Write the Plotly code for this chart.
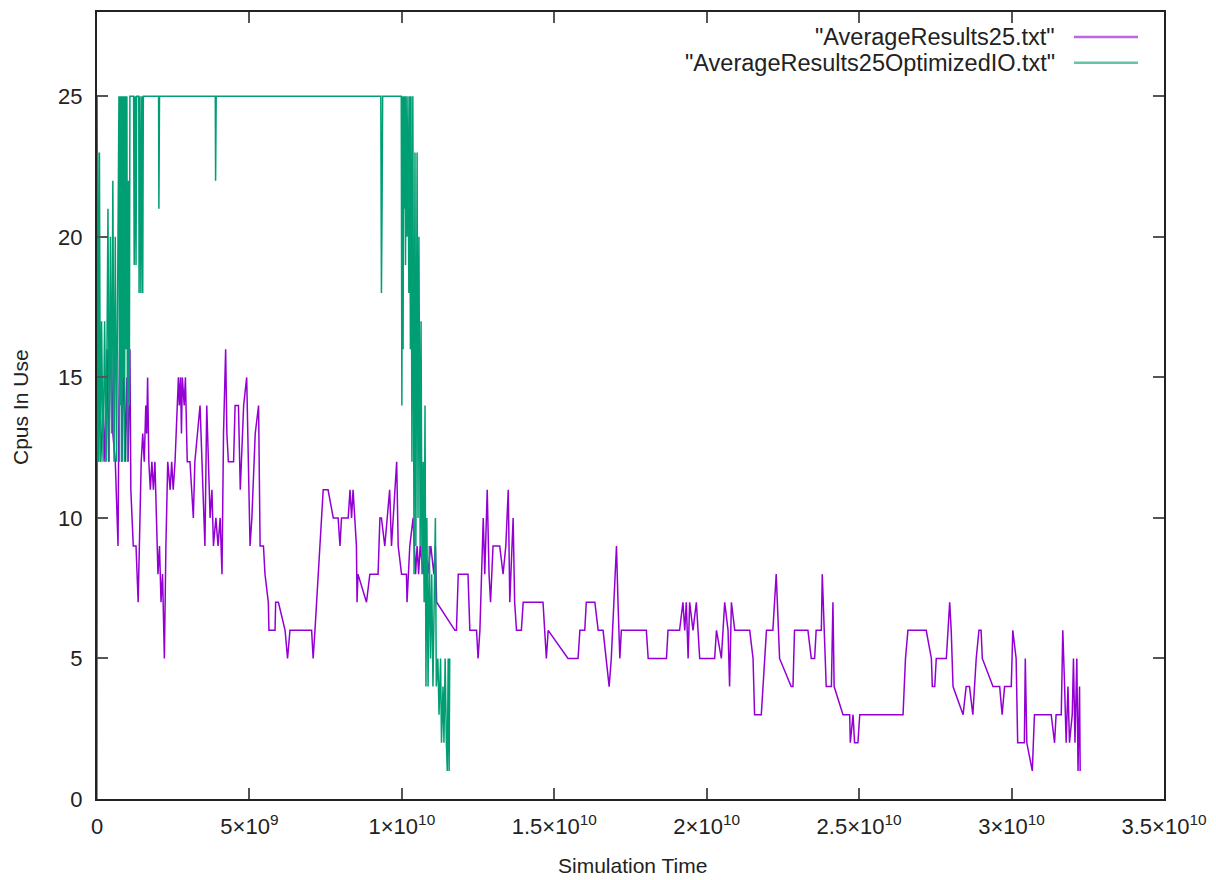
import plotly.graph_objects as go

# ---- data (x in units of 1e9 simulation time, y = CPUs in use) ----
avg25_x = [0, 0.03, 0.08, 0.12, 0.2, 0.26, 0.33, 0.38, 0.46, 0.52, 0.6, 0.69, 0.72, 0.78, 0.82, 0.88, 0.93, 0.98,
           1.02, 1.08, 1.11, 1.14, 1.19, 1.28, 1.35, 1.45, 1.5, 1.55, 1.6, 1.63, 1.66, 1.7, 1.75, 1.8, 1.85, 1.9,
           1.95, 2.0, 2.05, 2.1, 2.15, 2.21, 2.26, 2.32, 2.4, 2.45, 2.5, 2.56, 2.67, 2.7, 2.74, 2.77, 2.8, 2.86,
           2.9, 2.96, 3.05, 3.16, 3.21, 3.38, 3.54, 3.6, 3.71, 3.77, 3.82, 3.9, 3.97, 4.04, 4.1, 4.15, 4.22, 4.26,
           4.31, 4.48, 4.53, 4.64, 4.7, 4.81, 4.91, 4.97, 5.02, 5.08, 5.19, 5.3, 5.35, 5.46, 5.51, 5.62, 5.64,
           5.84, 5.86, 5.95, 6.17, 6.25, 6.33, 7.04, 7.09, 7.15, 7.26, 7.42, 7.58, 7.75, 7.91, 7.97, 8.02, 8.24,
           8.3, 8.35, 8.4, 8.51, 8.53, 8.56, 8.84, 8.95, 9.22, 9.28, 9.33, 9.44, 9.6, 9.66, 9.83, 9.88, 9.99,
           10.15, 10.17, 10.26, 10.37, 10.45, 10.5, 10.55, 10.6, 10.7, 10.75, 10.85, 10.95, 11.05, 11.1, 11.14,
           11.74, 11.79, 11.85, 12.17, 12.23, 12.45, 12.5, 12.56, 12.67, 12.72, 12.8, 12.86, 12.91, 12.99, 13.21,
           13.32, 13.41, 13.49, 13.54, 13.65, 13.7, 13.76, 13.92, 13.98, 14.63, 14.74, 14.8, 15.45, 15.78, 15.84,
           16.0, 16.05, 16.33, 16.44, 16.6, 16.71, 16.8, 16.87, 17.04, 17.09, 17.15, 17.2, 18.02, 18.08, 18.68,
           18.73, 19.11, 19.22, 19.28, 19.33, 19.39, 19.44, 19.55, 19.66, 19.77, 20.26, 20.32, 20.48, 20.59,
           20.7, 20.75, 20.81, 20.92, 21.41, 21.52, 21.57, 21.79, 21.96, 22.17, 22.28, 22.34, 22.39, 22.77,
           22.83, 22.88, 23.32, 23.43, 23.54, 23.59, 23.76, 23.79, 23.87, 23.92, 24.09, 24.14, 24.18, 24.47,
           24.69, 24.71, 24.8, 24.85, 24.96, 25.02, 26.44, 26.52, 26.6, 27.2, 27.37, 27.4, 27.48, 27.53, 27.86,
           27.97, 28.02, 28.08, 28.41, 28.51, 28.62, 28.73, 28.84, 28.93, 29.0, 29.04, 29.39, 29.61, 29.69,
           29.77, 29.99, 30.04, 30.15, 30.2, 30.42, 30.45, 30.5, 30.68, 30.75, 31.3, 31.41, 31.46, 31.63, 31.68,
           31.74, 31.79, 31.85, 31.9, 31.99, 32.03, 32.08, 32.14, 32.18, 32.23, 32.25]
avg25_y = [25, 12, 15, 12, 14, 12, 16, 12, 17, 13, 12, 9, 14, 19, 12, 16, 12, 15,
           12, 16, 11, 10, 9, 9, 7, 12, 13, 12, 14, 13, 15, 12, 11, 12, 11, 12,
           10, 8, 9, 7, 8, 5, 9, 12, 11, 12, 11, 12, 15, 14, 15, 13, 15, 14,
           15, 12, 12, 10, 12, 14, 9, 14, 10, 11, 9, 10, 9, 10, 8, 13, 16, 13,
           12, 12, 14, 14, 11, 14, 15, 11, 9, 10, 13, 14, 9, 9, 8, 7, 6,
           6, 7, 7, 6, 5, 6, 6, 5, 6, 8, 11, 11, 10, 10, 9, 10, 10,
           11, 10, 11, 9, 7, 8, 7, 8, 8, 10, 10, 9, 11, 9, 12, 9, 8,
           8, 7, 9, 10, 8, 9, 8, 9, 8, 9, 8, 9, 8, 9, 7,
           6, 6, 8, 8, 6, 6, 5, 6, 10, 8, 11, 8, 7, 9, 9,
           8, 9, 11, 7, 10, 7, 6, 6, 7, 7, 5, 6, 5, 5, 6,
           6, 7, 7, 6, 6, 5, 4, 5, 9, 7, 5, 6, 6, 5, 5,
           6, 6, 7, 6, 7, 5, 7, 6, 7, 5, 5, 6, 5, 7,
           6, 4, 7, 6, 6, 5, 3, 3, 6, 6, 8, 6, 5, 4,
           4, 6, 6, 5, 5, 6, 6, 8, 5, 4, 4, 7, 4, 3,
           3, 2, 3, 2, 2, 3, 3, 5, 6, 6, 5, 4, 4, 5, 5,
           7, 6, 4, 3, 4, 4, 3, 5, 6, 6, 5, 4, 4, 3,
           4, 4, 6, 5, 2, 2, 5, 2, 1, 3, 3, 2, 3, 3, 6,
           4, 2, 4, 2, 3, 5, 2, 5, 1, 4, 1]

opt_x = [0, 0.02, 0.05, 0.08, 0.11, 0.15, 0.2, 0.25, 0.3, 0.36, 0.4, 0.44, 0.48, 0.52, 0.56, 0.6, 0.64, 0.68,
         0.72, 0.74, 0.76, 0.78, 0.8, 0.82, 0.84, 0.86, 0.88, 0.9, 0.93, 0.95, 0.98, 1.0, 1.03, 1.06, 1.08,
         1.2, 1.22, 1.25, 1.28, 1.3, 1.37, 1.38, 1.41, 1.44, 1.47, 1.5, 1.52, 2.02, 2.03, 2.05, 3.88, 3.89,
         3.91, 9.31, 9.33, 9.35, 9.37, 9.98, 10.0, 10.02, 10.04, 10.06, 10.08, 10.1, 10.12, 10.14, 10.17,
         10.2, 10.23, 10.26, 10.28, 10.3, 10.33, 10.36, 10.4, 10.43, 10.46, 10.5, 10.53, 10.56, 10.6, 10.63,
         10.66, 10.7, 10.73, 10.76, 10.79, 10.82, 10.86, 10.9, 10.94, 10.98, 11.02, 11.06, 11.1, 11.13, 11.18,
         11.22, 11.27, 11.3, 11.35, 11.38, 11.42, 11.46, 11.49, 11.52, 11.55, 11.57]
opt_y = [0, 23, 12, 23, 12, 17, 12, 17, 12, 21, 12, 20, 13, 22, 12, 20, 12, 17,
         25, 12, 25, 14, 25, 12, 25, 15, 25, 12, 25, 16, 25, 12, 22, 14, 25,
         25, 19, 25, 19, 25, 25, 18, 25, 18, 25, 18, 25, 25, 21, 25, 25, 22,
         25, 25, 18, 21, 25, 25, 14, 25, 16, 25, 21, 25, 19, 25, 20,
         25, 18, 25, 16, 25, 12, 25, 8, 23, 9, 23, 10, 20, 9, 17,
         8, 12, 7, 14, 4, 10, 4, 9, 5, 8, 4, 7, 10, 4, 5,
         3, 5, 2, 4, 2, 5, 2, 1, 5, 1, 5]

x_tick_vals = [0, 5e9, 1e10, 1.5e10, 2e10, 2.5e10, 3e10, 3.5e10]
x_tick_text = ["0", "5×10<sup>9</sup>", "1×10<sup>10</sup>", "1.5×10<sup>10</sup>", "2×10<sup>10</sup>",
               "2.5×10<sup>10</sup>", "3×10<sup>10</sup>", "3.5×10<sup>10</sup>"]
y_tick_vals = [0, 5, 10, 15, 20, 25]

series_names = ['"AverageResults25.txt"', '"AverageResults25OptimizedIO.txt"']
series_colors = ["#9400D3", "#009E73"]

FONT = "Liberation Sans"
TXT = "#222222"

fig = go.Figure()
fig.add_trace(go.Scatter(x=[v * 1e9 for v in avg25_x], y=avg25_y, mode="lines",
                         line=dict(color=series_colors[0], width=1.5), name=series_names[0],
                         showlegend=False))
fig.add_trace(go.Scatter(x=[v * 1e9 for v in opt_x], y=opt_y, mode="lines",
                         line=dict(color=series_colors[1], width=1.5), name=series_names[1],
                         showlegend=False))

# the page body adds an 8px margin: targets below are window pixels, shifted by OFF
OFF = 8
W, H = 1216 - OFF, 880 - OFF
L, R, T, B = 97 - OFF, 1164 - OFF, 10 - OFF, 799 - OFF

fig.update_layout(
    width=W, height=H,
    margin=dict(l=L, r=W - R, t=T, b=H - B, pad=0),
    paper_bgcolor="white", plot_bgcolor="white",
    font=dict(family=FONT, size=22, color=TXT),
)
fig.update_xaxes(range=[0, 3.5e10], tickvals=x_tick_vals, ticktext=x_tick_text,
                 showgrid=False, zeroline=False, showline=True, linecolor=TXT, linewidth=2,
                 mirror="allticks", ticks="inside", ticklen=11, tickwidth=1.5, tickcolor="#555555",
                 ticklabelstandoff=7, tickfont=dict(size=22))
fig.update_yaxes(range=[0, 28], tickvals=y_tick_vals,
                 showgrid=False, zeroline=False, showline=True, linecolor=TXT, linewidth=2,
                 mirror="allticks", ticks="inside", ticklen=11, tickwidth=1.5, tickcolor="#555555",
                 ticklabelstandoff=8, tickfont=dict(size=22))

pw, ph = R - L, B - T

def px_x(p):
    return (p - OFF - L) / pw

def px_y(p):
    return (B - (p - OFF)) / ph

# axis titles
fig.add_annotation(text="Cpus In Use", textangle=-90, xref="paper", yref="paper",
                   x=px_x(21), y=px_y(406), xanchor="center", yanchor="middle", showarrow=False,
                   font=dict(size=21, family=FONT, color=TXT))
fig.add_annotation(text="Simulation Time", xref="paper", yref="paper",
                   x=px_x(632), y=px_y(866), xanchor="center", yanchor="middle", showarrow=False,
                   font=dict(size=21, family=FONT, color=TXT))

# gnuplot-style key (text right-aligned, sample line to the right)
key_rows = [35, 61]
for name, col, ry in zip(series_names, series_colors, key_rows):
    fig.add_annotation(text=name, xref="paper", yref="paper", x=px_x(1057), y=px_y(ry),
                       xanchor="right", yanchor="middle", showarrow=False,
                       font=dict(size=23.5, family=FONT, color=TXT))
    fig.add_shape(type="line", xref="paper", yref="paper", x0=px_x(1074), x1=px_x(1138),
                  y0=px_y(ry), y1=px_y(ry), line=dict(color=col, width=2.5), opacity=0.6)

fig.write_html("out.html")
